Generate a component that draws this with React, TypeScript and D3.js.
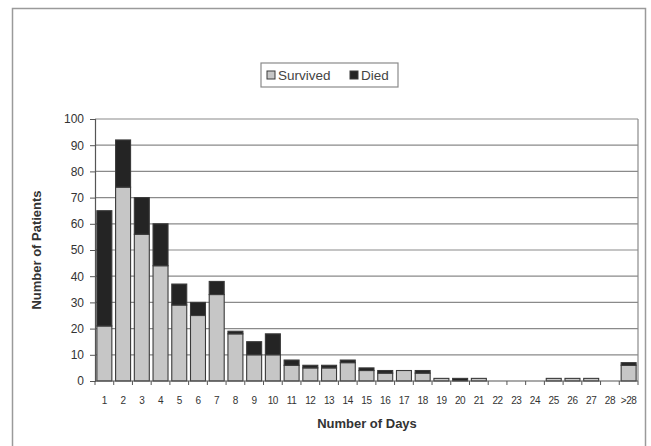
import { useEffect, useRef } from "react";
import * as d3 from "d3";

// Categories (days) and stacked values
const DAYS = [
  "1", "2", "3", "4", "5", "6", "7", "8", "9", "10",
  "11", "12", "13", "14", "15", "16", "17", "18", "19", "20",
  "21", "22", "23", "24", "25", "26", "27", "28", ">28",
];
const SURVIVED = [21, 74, 56, 44, 29, 25, 33, 18, 10, 10, 6, 5, 5, 7, 4, 3, 4, 3, 1, 0, 1, 0, 0, 0, 1, 1, 1, 0, 6];
const DIED = [44, 18, 14, 16, 8, 5, 5, 1, 5, 8, 2, 1, 1, 1, 1, 1, 0, 1, 0, 1, 0, 0, 0, 0, 0, 0, 0, 0, 1];
const Y_TICKS = [0, 10, 20, 30, 40, 50, 60, 70, 80, 90, 100];

const W = 651;
const H = 446;
const PLOT = { left: 95, right: 638, top: 119, bottom: 381 };
const FONT = "'Liberation Sans', Arial, sans-serif";

export default function App() {
  const svgRef = useRef<SVGSVGElement | null>(null);

  useEffect(() => {
    if (!svgRef.current) return;
    const svg = d3.select(svgRef.current);
    svg.selectAll("*").remove();

    // Outer chart border
    svg
      .append("rect")
      .attr("x", 12.5)
      .attr("y", 8.5)
      .attr("width", 633)
      .attr("height", 460)
      .attr("fill", "#fff")
      .attr("stroke", "#9a9a9a")
      .attr("stroke-width", 1.5);

    const x = d3
      .scaleBand<string>()
      .domain(DAYS)
      .range([PLOT.left, PLOT.right])
      .paddingInner(0.2)
      .paddingOuter(0.1);
    const y = d3.scaleLinear().domain([0, 100]).range([PLOT.bottom, PLOT.top]);

    // Gridlines
    svg
      .append("g")
      .selectAll("line")
      .data(Y_TICKS.filter((t) => t > 0))
      .join("line")
      .attr("x1", PLOT.left)
      .attr("x2", PLOT.right)
      .attr("y1", (d) => y(d))
      .attr("y2", (d) => y(d))
      .attr("stroke", "#8a8a8a")
      .attr("stroke-width", 1.2);

    // Right border of plot area
    svg
      .append("line")
      .attr("x1", PLOT.right)
      .attr("x2", PLOT.right)
      .attr("y1", PLOT.top)
      .attr("y2", PLOT.bottom)
      .attr("stroke", "#8a8a8a")
      .attr("stroke-width", 1.2);

    // Stacked bars
    const rows = DAYS.map((d, i) => ({ day: d, survived: SURVIVED[i], died: DIED[i] }));
    const series = d3.stack<any>().keys(["survived", "died"])(rows);
    const fills = ["#c6c6c6", "#242424"];

    series.forEach((s, si) => {
      svg
        .append("g")
        .selectAll("rect")
        .data(s.filter((p) => p[1] - p[0] > 0))
        .join("rect")
        .attr("x", (p) => x(p.data.day) as number)
        .attr("width", x.bandwidth())
        .attr("y", (p) => y(p[1]))
        .attr("height", (p) => y(p[0]) - y(p[1]))
        .attr("fill", fills[si])
        .attr("stroke", "#3a3a3a")
        .attr("stroke-width", 1.1);
    });

    // Y axis
    const yAxis = svg
      .append("g")
      .attr("transform", `translate(${PLOT.left},0)`)
      .call(d3.axisLeft(y).tickValues(Y_TICKS).tickSize(5).tickPadding(6));
    yAxis.select(".domain").attr("stroke", "#555").attr("stroke-width", 1.2);
    yAxis.selectAll(".tick line").attr("stroke", "#555");
    yAxis
      .selectAll(".tick text")
      .attr("font-family", FONT)
      .attr("font-size", 12)
      .attr("fill", "#333");

    // X axis: baseline, ticks between categories, labels
    svg
      .append("line")
      .attr("x1", PLOT.left)
      .attr("x2", PLOT.right)
      .attr("y1", PLOT.bottom)
      .attr("y2", PLOT.bottom)
      .attr("stroke", "#555")
      .attr("stroke-width", 1.2);
    const step = (PLOT.right - PLOT.left) / DAYS.length;
    svg
      .append("g")
      .selectAll("line")
      .data(d3.range(DAYS.length + 1))
      .join("line")
      .attr("x1", (i) => PLOT.left + i * step)
      .attr("x2", (i) => PLOT.left + i * step)
      .attr("y1", PLOT.bottom)
      .attr("y2", PLOT.bottom + 4)
      .attr("stroke", "#555");
    svg
      .append("g")
      .selectAll("text")
      .data(DAYS)
      .join("text")
      .attr("x", (d) => (x(d) as number) + x.bandwidth() / 2)
      .attr("y", 404)
      .attr("text-anchor", "middle")
      .attr("font-family", FONT)
      .attr("font-size", 10)
      .attr("letter-spacing", -0.4)
      .attr("fill", "#333")
      .text((d) => d);

    // Axis titles
    svg
      .append("text")
      .attr("x", 367)
      .attr("y", 428)
      .attr("text-anchor", "middle")
      .attr("font-family", FONT)
      .attr("font-size", 13)
      .attr("font-weight", "bold")
      .attr("fill", "#333")
      .text("Number of Days");
    svg
      .append("text")
      .attr("transform", `translate(41,250) rotate(-90)`)
      .attr("text-anchor", "middle")
      .attr("font-family", FONT)
      .attr("font-size", 13)
      .attr("font-weight", "bold")
      .attr("fill", "#333")
      .text("Number of Patients");

    // Legend
    const lg = svg.append("g").attr("transform", "translate(261,63)");
    lg.append("rect")
      .attr("width", 137)
      .attr("height", 24)
      .attr("fill", "#fff")
      .attr("stroke", "#8a8a8a")
      .attr("stroke-width", 1.2);
    const items = [
      { label: "Survived", fill: fills[0], x: 6 },
      { label: "Died", fill: fills[1], x: 89 },
    ];
    items.forEach((it) => {
      lg.append("rect")
        .attr("x", it.x)
        .attr("y", 8)
        .attr("width", 8)
        .attr("height", 8)
        .attr("fill", it.fill)
        .attr("stroke", "#3a3a3a");
      lg.append("text")
        .attr("x", it.x + 11)
        .attr("y", 17)
        .attr("font-family", FONT)
        .attr("font-size", 13.5)
        .attr("fill", "#444")
        .text(it.label);
    });
  }, []);

  return (
    <svg
      ref={svgRef}
      width={W}
      height={H}
      style={{ position: "absolute", left: 0, top: 0, background: "#fff" }}
    />
  );
}
